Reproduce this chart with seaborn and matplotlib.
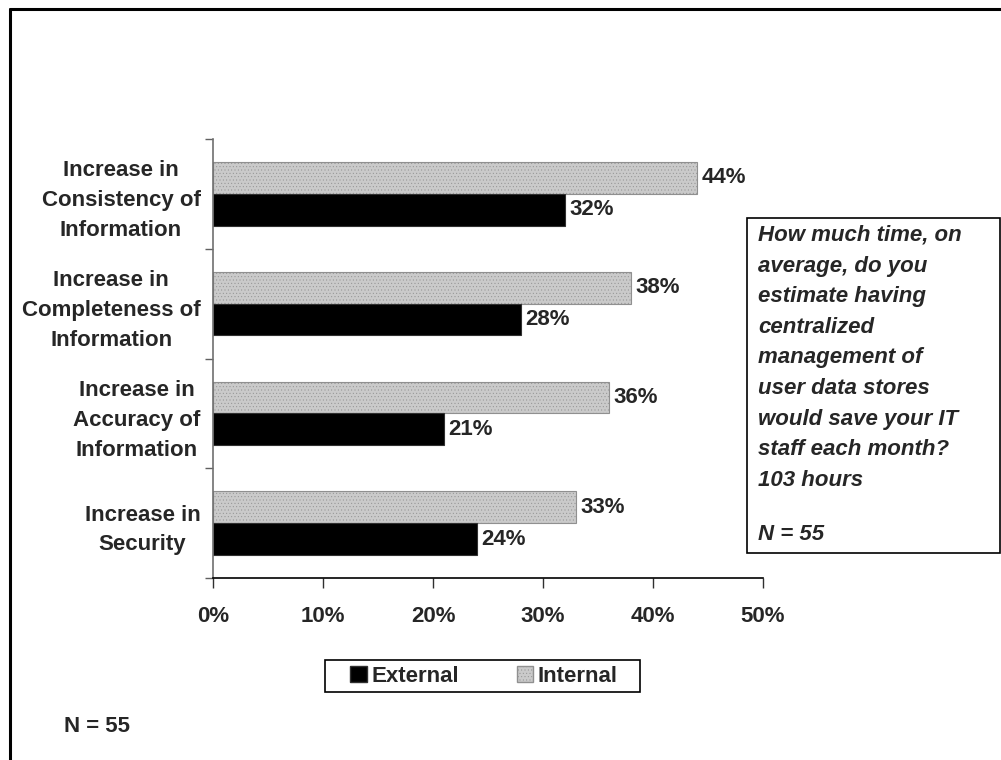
import pandas as pd
import numpy as np
import matplotlib
matplotlib.use('Agg')
import matplotlib.pyplot as plt
import matplotlib.patches as mpatches
from matplotlib.lines import Line2D
import seaborn as sns

# -----------------------------
# DATA
# -----------------------------
categories = ['Increase in\nConsistency of\nInformation',
              'Increase in\nCompleteness of\nInformation',
              'Increase in\nAccuracy of\nInformation',
              'Increase in\nSecurity']
internal = [44, 38, 36, 33]
external = [32, 28, 21, 24]
xticks = [0, 10, 20, 30, 40, 50]
xtick_labels = ['0%', '10%', '20%', '30%', '40%', '50%']
question = ('How much time, on\naverage, do you\nestimate having\ncentralized\n'
            'management of\nuser data stores\nwould save your IT\nstaff each month?')
answer = '103 hours'
n_text = 'N = 55'

df = pd.DataFrame({
    'category': categories * 2,
    'value': internal + external,
    'series': ['Internal'] * len(categories) + ['External'] * len(categories),
})

# -----------------------------
# STYLE
# -----------------------------
sns.set_style('white')
plt.rcParams['font.family'] = ['Liberation Sans', 'DejaVu Sans']
plt.rcParams['font.weight'] = 'bold'
plt.rcParams['hatch.linewidth'] = 0.3
FS = 16
INT_FACE = '#cacaca'
INT_EDGE = '#909090'

fig = plt.figure(figsize=(10.01, 7.6), dpi=100)
ax = fig.add_axes([213 / 1001, 1 - 578 / 760, 550 / 1001, 439 / 760])

sns.barplot(data=df, x='value', y='category', hue='series', orient='h',
            hue_order=['Internal', 'External'],
            palette={'Internal': INT_FACE, 'External': 'black'},
            width=0.58, gap=0, saturation=1, legend=False, ax=ax)

int_bars, ext_bars = ax.containers[0], ax.containers[1]
for p in int_bars:
    p.set_hatch('.....')
    p.set_edgecolor(INT_EDGE)
    p.set_linewidth(0.8)
for p in ext_bars:
    p.set_edgecolor('#303030')
    p.set_linewidth(0.8)

for c in ax.containers:
    ax.bar_label(c, fmt='%d%%', padding=3, fontsize=FS, fontweight='bold')

ax.set_xlim(0, 50)
ax.set_ylim(3.5, -0.5)
ax.set_xticks(xticks)
ax.set_xticklabels(xtick_labels, fontsize=FS, fontweight='bold')
ax.set_yticks(range(len(categories)))
ax.set_yticklabels(categories, fontsize=FS, fontweight='bold',
                   ha='right', multialignment='center', linespacing=1.55)
ax.set_yticks(np.arange(-0.5, len(categories), 1.0), minor=True)
ax.tick_params(axis='y', which='major', length=0, pad=9)
ax.tick_params(axis='y', which='minor', length=6, width=1, color='#606060', direction='out', left=True)
ax.tick_params(axis='x', which='major', length=7, width=1, color='#303030', direction='out', pad=13, bottom=True)
ax.set_xlabel('')
ax.set_ylabel('')
ax.grid(False)
for s in ['top', 'right']:
    ax.spines[s].set_visible(False)
ax.spines['left'].set_color('#707070')
ax.spines['bottom'].set_color('black')
ax.spines['left'].set_linewidth(1.2)
ax.spines['bottom'].set_linewidth(1.2)

# legend (frame drawn separately so its padding matches)
handles = [mpatches.Patch(facecolor='black', edgecolor='#303030', label='External'),
           mpatches.Patch(facecolor=INT_FACE, edgecolor=INT_EDGE, hatch='.....', label='Internal')]
fig.patches.append(mpatches.Rectangle((325 / 1001, 1 - 692 / 760), 315 / 1001, 32 / 760,
                                      transform=fig.transFigure, facecolor='white',
                                      edgecolor='black', linewidth=1.2))
leg = fig.legend(handles=handles, loc='center', bbox_to_anchor=(484 / 1001, 1 - 676 / 760),
                 ncol=2, frameon=False, prop={'weight': 'bold', 'size': FS},
                 handlelength=0.75, handleheight=0.75, handletextpad=0.2, columnspacing=2.6,
                 borderpad=0.3, borderaxespad=0)

# side text box
fig.patches.append(mpatches.Rectangle((747 / 1001, 1 - 553 / 760), 253 / 1001, 335 / 760,
                                      transform=fig.transFigure, facecolor='white',
                                      edgecolor='black', linewidth=1.2))
fig.text(758 / 1001, 1 - 225 / 760, question, ha='left', va='top', fontsize=FS,
         fontweight='bold', style='italic', linespacing=1.6)
fig.text(758 / 1001, 1 - 481 / 760, answer, ha='left', va='center', fontsize=FS,
         fontweight='bold', style='italic')
fig.text(758 / 1001, 1 - 535 / 760, n_text, ha='left', va='center', fontsize=FS,
         fontweight='bold', style='italic')

fig.text(64 / 1001, 1 - 727 / 760, n_text, ha='left', va='center', fontsize=FS, fontweight='bold')

# outer frame (top and left edges)
fig.add_artist(Line2D([10 / 1001, 1.0], [1 - 9 / 760, 1 - 9 / 760], transform=fig.transFigure,
                      color='black', linewidth=2.2))
fig.add_artist(Line2D([10 / 1001, 10 / 1001], [0.0, 1 - 9 / 760], transform=fig.transFigure,
                      color='black', linewidth=2.2))

fig.savefig('out.png', dpi=100, facecolor='white')
